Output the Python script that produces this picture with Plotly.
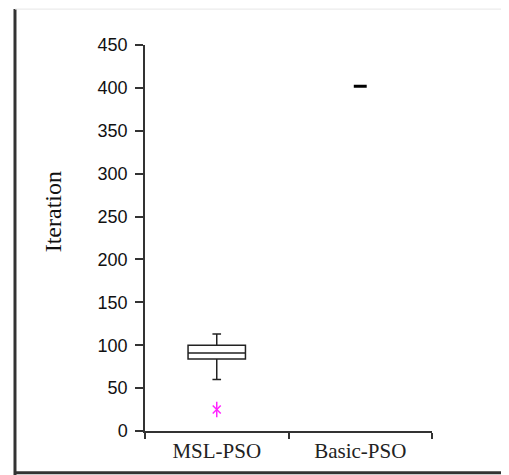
import plotly.graph_objects as go

categories = ["MSL-PSO", "Basic-PSO"]
lower_fence = [60, 402]
q1 = [84, 402]
median = [91, 402]
q3 = [100, 402]
upper_fence = [113, 402]
outlier_cat = ["MSL-PSO"]
outlier_val = [25]
y_ticks = [0, 50, 100, 150, 200, 250, 300, 350, 400, 450]
y_title = "Iteration"

fig = go.Figure()
fig.add_trace(go.Box(
    x=[categories[0]], q1=[q1[0]], median=[median[0]], q3=[q3[0]],
    lowerfence=[lower_fence[0]], upperfence=[upper_fence[0]],
    width=0.4, whiskerwidth=0.15, fillcolor="white",
    line=dict(color="#222222", width=1.5), boxpoints=False, showlegend=False,
))
fig.add_trace(go.Box(
    x=[categories[1]], q1=[q1[1]], median=[median[1]], q3=[q3[1]],
    lowerfence=[lower_fence[1]], upperfence=[upper_fence[1]],
    width=0.09, whiskerwidth=1, fillcolor="black",
    line=dict(color="black", width=3), boxpoints=False, showlegend=False,
))
for sym, sz in (("x-thin-open", 8), ("line-ns-open", 11)):
    fig.add_trace(go.Scatter(
        x=outlier_cat, y=outlier_val, mode="markers",
        marker=dict(symbol=sym, size=sz, color="#ff22ff", line=dict(color="#ff22ff", width=1.5)),
        showlegend=False, hoverinfo="skip",
    ))

# frame around the figure
fig.add_shape(type="line", xref="paper", yref="paper", x0=-0.453, x1=-0.453, y0=1.093, y1=-0.115,
              line=dict(color="#333333", width=3))
fig.add_shape(type="line", xref="paper", yref="paper", x0=-0.453, x1=1.26, y0=-0.108, y1=-0.108,
              line=dict(color="#333333", width=3))
fig.add_shape(type="line", xref="paper", yref="paper", x0=-0.453, x1=1.254, y0=1.093, y1=1.093,
              line=dict(color="#e6e6e6", width=1))
fig.add_shape(type="line", xref="paper", yref="paper", x0=1.254, x1=1.254, y0=1.093, y1=-0.108,
              line=dict(color="#e6e6e6", width=1))

fig.add_annotation(
    text=y_title, xref="paper", yref="paper", x=-0.32, y=0.567,
    xanchor="center", yanchor="middle", textangle=-90, showarrow=False,
    font=dict(family="Liberation Serif", size=24, color="#111111"),
)

fig.update_layout(
    width=509, height=475,
    margin=dict(l=137, r=85, t=37, b=52),
    paper_bgcolor="white", plot_bgcolor="white",
    boxmode="overlay",
    xaxis=dict(
        type="category", categoryorder="array", categoryarray=categories,
        range=[-0.5, 1.5], tickson="boundaries",
        showline=True, linecolor="#333333", linewidth=1.5,
        ticks="outside", ticklen=6, tickcolor="#333333", tickwidth=1.5,
        showgrid=False, zeroline=False,
        tickfont=dict(family="Liberation Serif", size=21, color="#222222"),
    ),
    yaxis=dict(
        range=[0, 450], tickvals=y_ticks,
        showline=True, linecolor="#333333", linewidth=1.5,
        ticks="outside", ticklen=8, tickcolor="#333333", tickwidth=1.5,
        ticklabelstandoff=4,
        showgrid=False, zeroline=False,
        tickfont=dict(family="Liberation Sans", size=18, color="#111111"),
    ),
)

fig.write_html("out.html")
